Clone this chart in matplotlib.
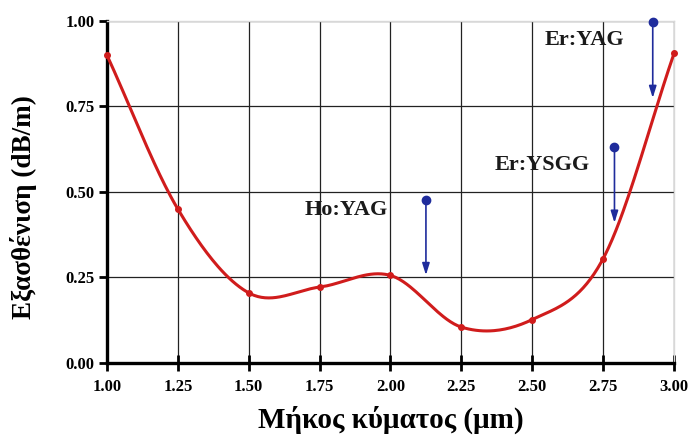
import numpy as np
import matplotlib
matplotlib.use("Agg")
import matplotlib.pyplot as plt

# attenuation vs wavelength
wavelength = [1.00, 1.25, 1.50, 1.75, 2.00, 2.25, 2.50, 2.75, 3.00]
attenuation = [0.90, 0.45, 0.205, 0.222, 0.256, 0.105, 0.127, 0.305, 0.905]

# laser lines: name, wavelength, arrow start, arrow end
laser_names = ["Ho:YAG", "Er:YSGG", "Er:YAG"]
laser_wl = [2.125, 2.79, 2.925]
arrow_top = [0.477, 0.633, 0.998]
arrow_end = [0.257, 0.41, 0.775]
label_x = [1.845, 2.535, 2.685]
label_y = [0.447, 0.579, 0.944]

RED = "#d01c1c"
BLUE = "#1f2c9c"


def catmull_rom(x, y, n=40):
    # smooth curve through all points
    x = np.asarray(x, float)
    y = np.asarray(y, float)
    px = np.concatenate([[2 * x[0] - x[1]], x, [2 * x[-1] - x[-2]]])
    py = np.concatenate([[2 * y[0] - y[1]], y, [2 * y[-1] - y[-2]]])
    xs, ys = [], []
    t = np.linspace(0, 1, n)
    for i in range(1, len(px) - 2):
        for p, out in ((px, xs), (py, ys)):
            p0, p1, p2, p3 = p[i - 1], p[i], p[i + 1], p[i + 2]
            out.append(0.5 * (2 * p1 + (-p0 + p2) * t
                              + (2 * p0 - 5 * p1 + 4 * p2 - p3) * t ** 2
                              + (-p0 + 3 * p1 - 3 * p2 + p3) * t ** 3))
    return np.concatenate(xs), np.concatenate(ys)


plt.rcParams["font.family"] = ["Liberation Serif", "DejaVu Serif"]
plt.rcParams["font.weight"] = "bold"

fig = plt.figure(figsize=(6.92, 4.43), dpi=100)
ax = fig.add_axes([0.1546, 0.1806, 0.8194, 0.772])

sx, sy = catmull_rom(wavelength, attenuation)
ax.plot(sx, sy, color=RED, lw=2.2, zorder=4, clip_on=False)
ax.plot(wavelength, attenuation, "o", color=RED, ms=4, zorder=5, clip_on=False)

for name, x, y0, y1, lx, ly in zip(laser_names, laser_wl, arrow_top, arrow_end, label_x, label_y):
    ax.annotate("", xy=(x, y1), xytext=(x, y0),
                arrowprops=dict(arrowstyle="-|>,head_length=0.7,head_width=0.22",
                                color=BLUE, lw=1.2, shrinkA=0, shrinkB=0),
                zorder=6, annotation_clip=False)
    ax.plot(x, y0, "o", color=BLUE, ms=6, zorder=7, clip_on=False)
    ax.text(lx, ly, name, ha="center", va="center", fontsize=16,
            fontweight="bold", color="#1a1a1a", zorder=8)

ax.set_xlim(1.0, 3.0)
ax.set_ylim(0.0, 1.0)
ticks_x = np.arange(1.0, 3.01, 0.25)
ticks_y = np.arange(0.0, 1.01, 0.25)
ax.set_xticks(ticks_x)
ax.set_yticks(ticks_y)
ax.set_xticklabels(["%.2f" % v for v in ticks_x])
ax.set_yticklabels(["%.2f" % v for v in ticks_y])
ax.grid(True, color="#222222", lw=0.9)
ax.set_axisbelow(True)

ax.tick_params(axis="x", direction="inout", length=11, width=2, labelsize=12, pad=6)
ax.tick_params(axis="y", direction="out", length=6, width=2, labelsize=12, pad=3)
for lbl in ax.get_xticklabels() + ax.get_yticklabels():
    lbl.set_fontweight("bold")

ax.spines["left"].set_linewidth(2.4)
ax.spines["bottom"].set_linewidth(2.4)
ax.spines["top"].set_color("#d8d8d8")
ax.spines["right"].set_color("#d8d8d8")
ax.spines["top"].set_linewidth(1.0)
ax.spines["right"].set_linewidth(1.0)

ax.set_xlabel("Μήκος κύματος (μm)", fontsize=21, fontweight="bold", labelpad=8)
ax.set_ylabel("Εξασθένιση (dB/m)", fontsize=19.5, fontweight="bold")
ax.yaxis.set_label_coords(-0.123, 0.455)

fig.savefig("out.png", dpi=100)
